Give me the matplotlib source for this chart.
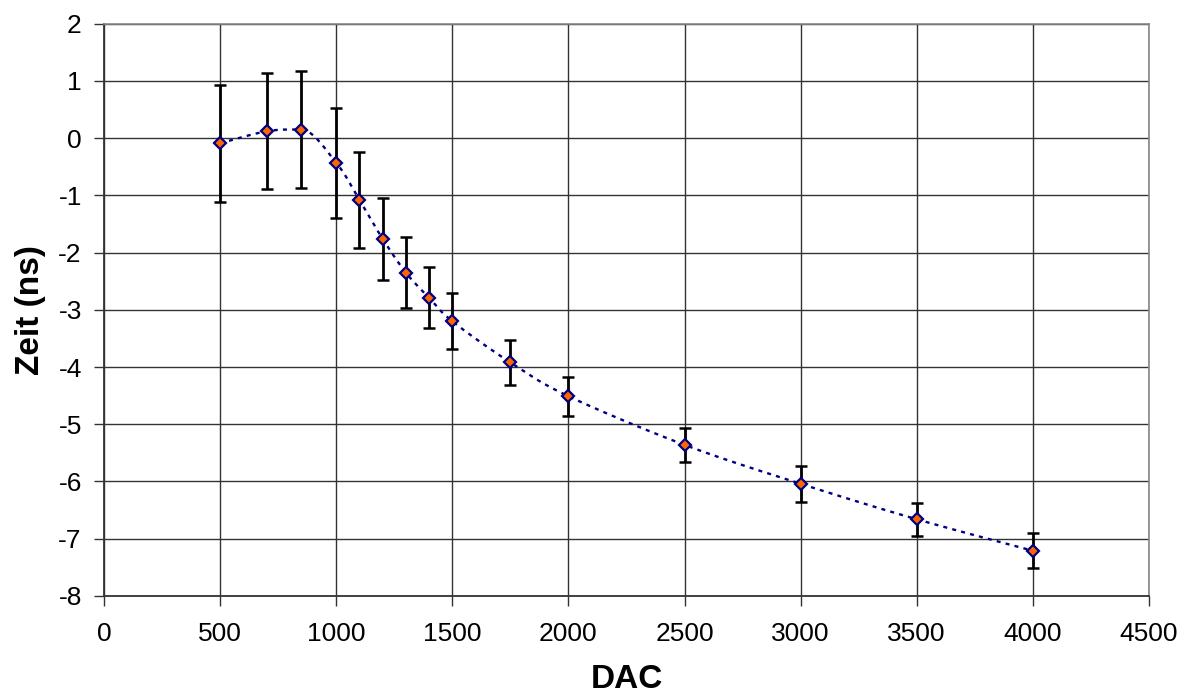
import numpy as np
import matplotlib
matplotlib.use("Agg")
import matplotlib.pyplot as plt

plt.rcParams['font.family'] = ['Liberation Sans', 'DejaVu Sans']
plt.rcParams['axes.unicode_minus'] = False

# DAC settings, measured time offset and its uncertainty
dac = [500, 700, 850, 1000, 1100, 1200, 1300, 1400, 1500, 1750, 2000, 2500, 3000, 3500, 4000]
zeit = [-0.09, 0.12, 0.15, -0.43, -1.08, -1.76, -2.35, -2.79, -3.20, -3.92, -4.51, -5.36, -6.04, -6.66, -7.21]
fehler = [1.02, 1.01, 1.02, 0.96, 0.84, 0.72, 0.62, 0.53, 0.49, 0.39, 0.34, 0.30, 0.31, 0.29, 0.31]

x_ticks = [0, 500, 1000, 1500, 2000, 2500, 3000, 3500, 4000, 4500]
y_ticks = [-8, -7, -6, -5, -4, -3, -2, -1, 0, 1, 2]


def smooth_curve(xs, ys, n=30):
    """Cubic Bezier smoothing through all points, flat at local extrema."""
    p = np.column_stack([xs, ys]).astype(float)
    m = len(p)
    tang = np.zeros_like(p)
    for i in range(m):
        a = p[max(i - 1, 0)]
        b = p[min(i + 1, m - 1)]
        tang[i] = (b - a) / 6.0
        if 0 < i < m - 1:
            d1 = p[i, 1] - a[1]
            d2 = b[1] - p[i, 1]
            if d1 * d2 <= 0:
                tang[i, 1] = 0.0
    out = []
    t = np.linspace(0, 1, n)[:, None]
    for i in range(m - 1):
        p1, p2 = p[i], p[i + 1]
        c1 = p1 + tang[i]
        c2 = p2 - tang[i + 1]
        seg = ((1 - t) ** 3) * p1 + 3 * ((1 - t) ** 2) * t * c1 \
            + 3 * (1 - t) * t ** 2 * c2 + t ** 3 * p2
        out.append(seg if i == 0 else seg[1:])
    seg = np.vstack(out)
    return seg[:, 0], seg[:, 1]


fig = plt.figure(figsize=(11.82, 6.97), dpi=100)
ax = fig.add_axes([0.088, 0.145, 0.884, 0.821])

sx, sy = smooth_curve(dac, zeit)
ax.plot(sx, sy, color='#000080', lw=1.7, linestyle=(0, (1.7, 2.2)), zorder=3)

ax.errorbar(dac, zeit, yerr=fehler, fmt='none', ecolor='black',
            elinewidth=2.0, capsize=4.0, capthick=1.8, zorder=4)
ax.plot(dac, zeit, linestyle='none', marker='D', markersize=6.3,
        markerfacecolor='#FF6600', markeredgecolor='#000080',
        markeredgewidth=1.6, zorder=5)

ax.set_xlim(0, 4500)
ax.set_ylim(-8, 2)
ax.set_xticks(x_ticks)
ax.set_yticks(y_ticks)
ax.grid(True, color='#333333', lw=1.0, zorder=0)
ax.set_axisbelow(True)

for side in ['top', 'right']:
    ax.spines[side].set_color('#888888')
    ax.spines[side].set_linewidth(1.2)
for side in ['left', 'bottom']:
    ax.spines[side].set_color('#333333')
    ax.spines[side].set_linewidth(1.3)

ax.tick_params(axis='both', direction='out', length=7, width=1.0,
               color='#333333', labelsize=19)
ax.tick_params(axis='x', pad=12)
ax.tick_params(axis='y', pad=9)

ax.set_xlabel('DAC', fontsize=24, fontweight='bold', labelpad=13)
ax.set_ylabel('Zeit (ns)', fontsize=24, fontweight='bold', labelpad=9)

fig.savefig('out.png', dpi=100, facecolor='white')
